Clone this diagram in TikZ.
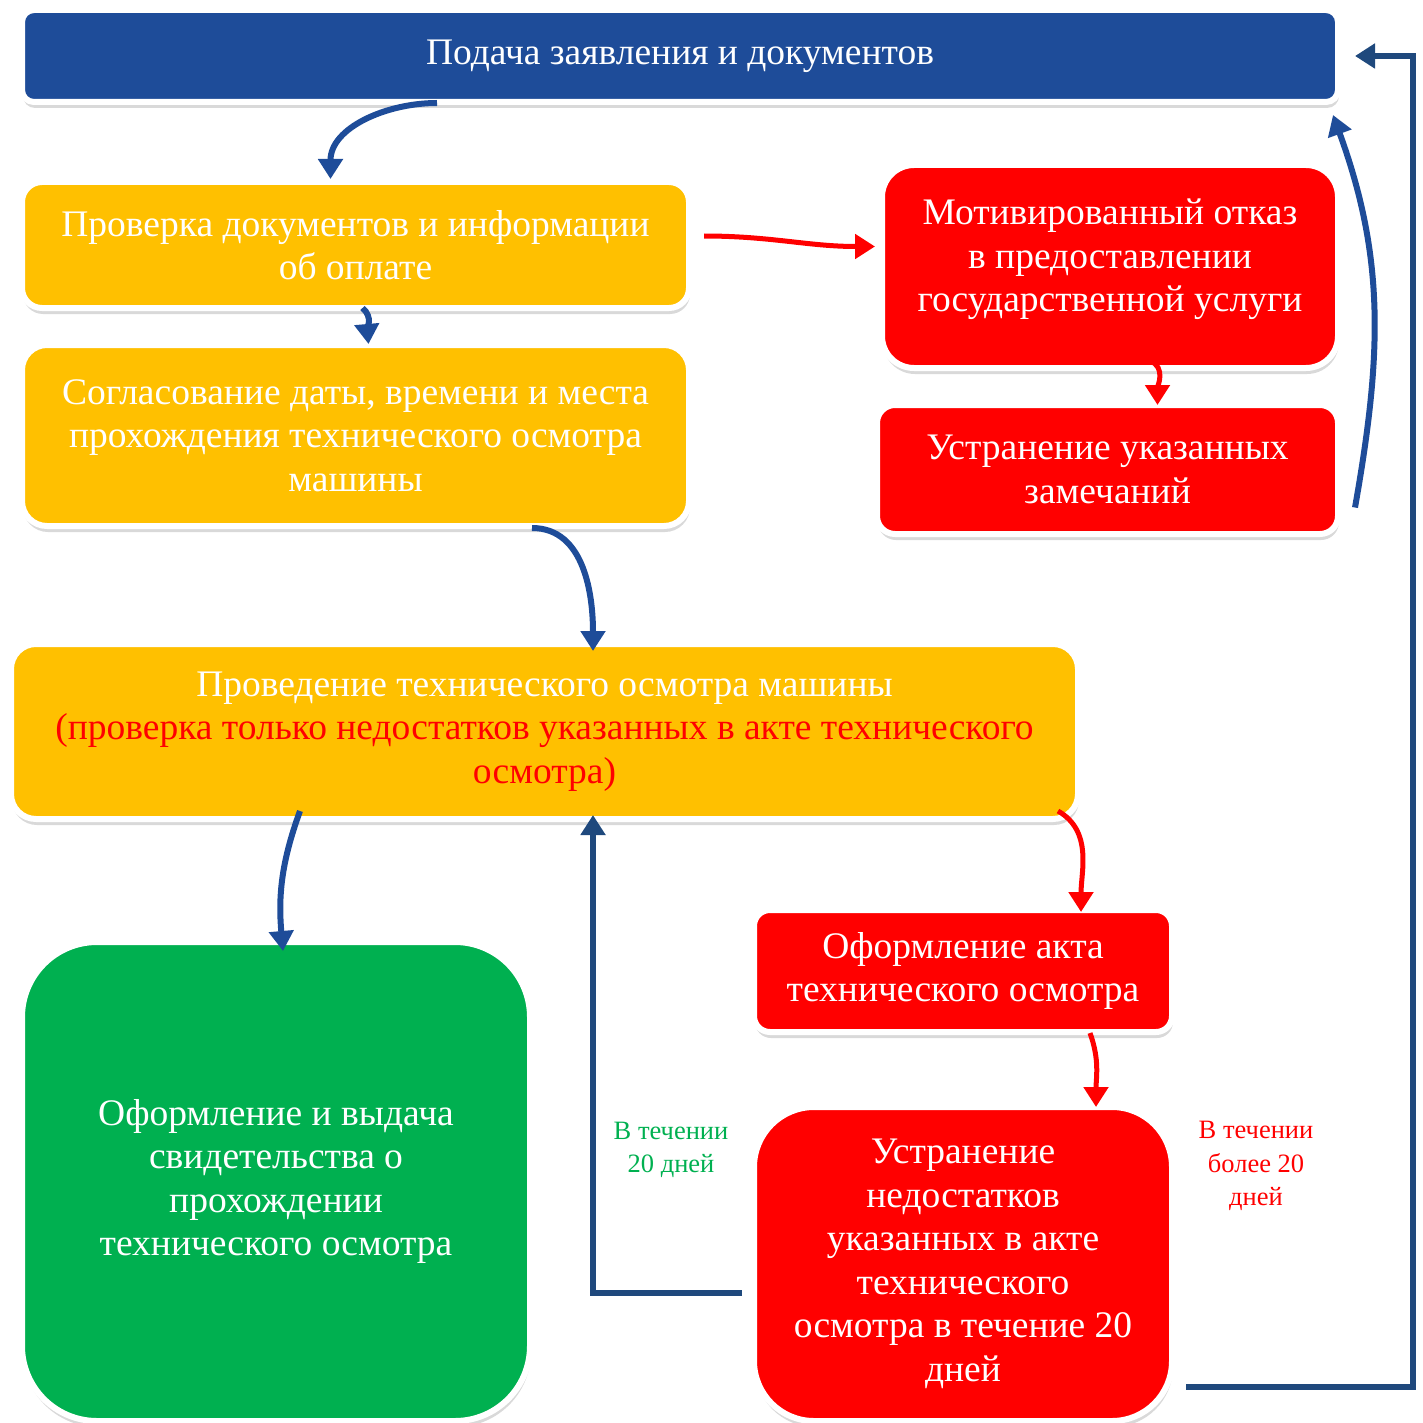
\documentclass[tikz,border=0pt]{standalone}
\usepackage{fontspec}
\setmainfont{Liberation Serif}
\usetikzlibrary{arrows.meta, positioning, shadows}
\definecolor{boxblue}{RGB}{30,76,153}
\definecolor{boxyellow}{RGB}{255,192,0}
\definecolor{boxred}{RGB}{255,0,0}
\definecolor{boxgreen}{RGB}{0,176,80}
\definecolor{linkblue}{RGB}{31,73,125}
\begin{document}
\begin{tikzpicture}[x=1pt, y=1pt,
  every node/.style={font=\fontsize{37.5}{43.5}\selectfont, align=center, text=white, inner sep=0pt},
  box/.style={draw=white, line width=6pt, drop shadow={opacity=0.3, shadow xshift=1pt, shadow yshift=-6pt}},
  bluearrow/.style={draw=boxblue, line width=6pt, -{Triangle[width=24pt,length=20pt]}},
  redarrow/.style={draw=boxred, line width=5pt, -{Triangle[width=24pt,length=20pt]}},
  linkarrow/.style={draw=linkblue, line width=6pt, -{Triangle[width=24pt,length=20pt]}},
  term/.style={font=\fontsize{26.5}{33.5}\selectfont}]
\useasboundingbox (0,0) rectangle (1422,-1423);

\node[box, fill=boxblue, rounded corners=12pt, minimum width=1316pt, minimum height=92pt] (submit) at (680,-56) {Подача заявления и документов};
\node[box, fill=boxyellow, rounded corners=20pt, minimum width=667pt, minimum height=126pt] (check) at (355.5,-245) {Проверка документов и информации\\об оплате};
\node[box, fill=boxyellow, rounded corners=25pt, minimum width=667pt, minimum height=181pt] (agree) at (355.5,-435.5) {Согласование даты, времени и места\\прохождения технического осмотра\\машины};
\node[box, fill=boxred, rounded corners=32pt, minimum width=456pt, minimum height=203pt] (refuse) at (1110,-266.5) {Мотивированный отказ\\в предоставлении\\государственной услуги\\[-21pt]{}};
\node[box, fill=boxred, rounded corners=18pt, minimum width=461pt, minimum height=129pt] (fix) at (1107.5,-469.5) {Устранение указанных\\замечаний};
\node[box, fill=boxyellow, rounded corners=25pt, minimum width=1067pt, minimum height=175pt] (inspect) at (544.5,-731.5) {Проведение технического осмотра машины\\\textcolor{boxred}{(проверка только недостатков указанных в акте технического}\\\textcolor{boxred}{осмотра)}};
\node[box, fill=boxgreen, rounded corners=75pt, minimum width=508pt, minimum height=479pt] (cert) at (276,-1181.5) {Оформление и выдача\\свидетельства о\\прохождении\\технического осмотра};
\node[box, fill=boxred, rounded corners=16pt, minimum width=418pt, minimum height=122pt] (act) at (963,-971) {Оформление акта\\технического осмотра};
\node[box, fill=boxred, rounded corners=60pt, minimum width=418pt, minimum height=314pt] (repair) at (963,-1264) {Устранение\\недостатков\\указанных в акте\\технического\\осмотра в течение 20\\дней};
\node[term, text=boxgreen] (inTerm) at (671,-1150) {В течении\\20 дней};
\node[term, text=boxred] (lateTerm) at (1256,-1166) {В течении\\более 20\\дней};

\draw[bluearrow] ([xshift=-243pt,yshift=2pt]submit.south) to[out=180,in=90] ([xshift=-25pt]check.north);
\draw[bluearrow] ([xshift=7pt,yshift=3pt]check.south) to[out=-40,in=95] ([xshift=13pt,yshift=-2pt]agree.north);
\draw[redarrow] ([xshift=12pt,yshift=9pt]check.east) to[out=0,in=180] ([xshift=-4pt,yshift=20pt]refuse.west);
\draw[redarrow] ([xshift=40pt,yshift=10pt]refuse.south) to[out=-20,in=90] ([xshift=50pt,yshift=-3pt]fix.north);
\draw[bluearrow] ([xshift=14pt,yshift=-38pt]fix.east) to[out=80,in=-70] ([xshift=-8pt,yshift=-10pt]submit.south east);
\draw[linkarrow] ([xshift=11pt,yshift=-123pt]repair.east) -| ([xshift=72pt]submit.east) -- ([xshift=14pt]submit.east);
\draw[bluearrow] ([xshift=176.5pt,yshift=1pt]agree.south) to[out=0,in=90] ([xshift=48.5pt,yshift=-10pt]inspect.north);
\draw[bluearrow] ([xshift=-244.5pt,yshift=11pt]inspect.south) to[out=-110,in=95] ([xshift=7pt,yshift=-12pt]cert.north);
\draw[linkarrow] ([xshift=-9pt,yshift=-29pt]repair.west) -| ([xshift=48.5pt,yshift=7pt]inspect.south);
\draw[redarrow] ([xshift=513.5pt,yshift=11pt]inspect.south) to[out=-30,in=90] ([xshift=118pt,yshift=-5pt]act.north);
\draw[redarrow] ([xshift=127pt,yshift=2pt]act.south) to[out=-70,in=90] ([xshift=133pt,yshift=-3pt]repair.north);
\end{tikzpicture}
\end{document}
